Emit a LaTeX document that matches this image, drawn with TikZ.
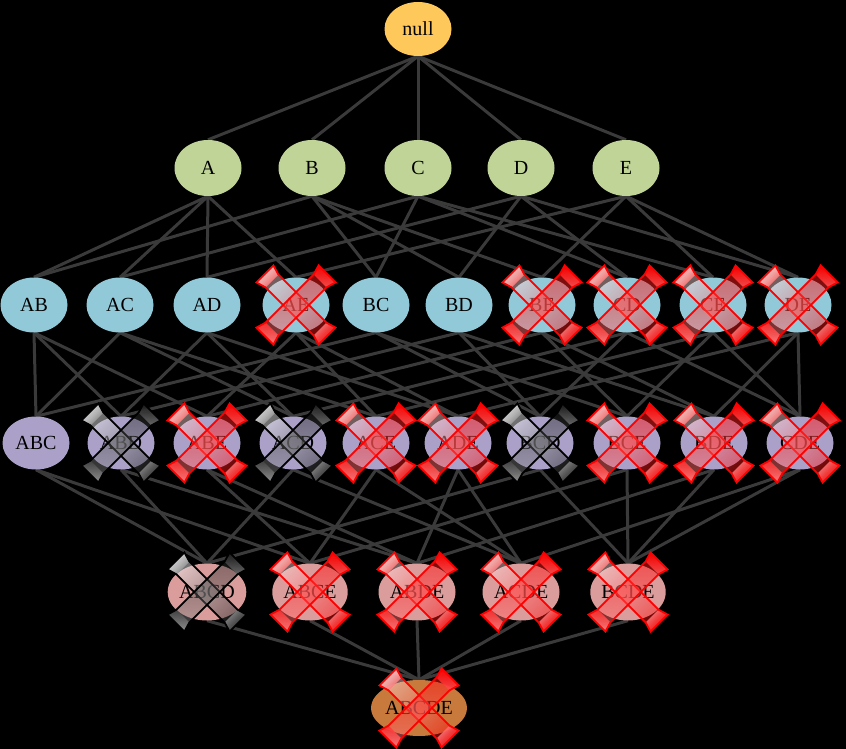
\documentclass[tikz,border=0pt]{standalone}
\usepackage{fontspec}
\setmainfont{Liberation Serif}
\usetikzlibrary{shapes.geometric}
\pgfdeclarelayer{edgelayer}
\pgfdeclarelayer{backlayer}
\pgfsetlayers{backlayer,edgelayer,main}
\definecolor{nullc}{HTML}{FFC85A}
\definecolor{greenc}{HTML}{C0D498}
\definecolor{bluec}{HTML}{92C9D8}
\definecolor{purplec}{HTML}{AAA0C8}
\definecolor{pinkc}{HTML}{DB9C9C}
\definecolor{brownc}{HTML}{C87A3C}
\definecolor{edgec}{HTML}{3A3A3A}
\newcommand{\xbar}[1]{%
  \path[#1, draw=none, fill opacity=0.9] (-39.6,-22.6) -- (-22.6,-39.6) -- (-17.6,-30.4) -- (-30.4,-17.6) -- cycle;
  \path[#1, draw=none, fill opacity=0.9] (30.4,17.6) -- (39.6,22.6) -- (22.6,39.6) -- (17.6,30.4) -- cycle;
  \path[#1] (-22.6,-39.6) -- (-17.6,-30.4) -- (30.4,17.6) -- (39.6,22.6) -- (22.6,39.6) -- (17.6,30.4) -- (-30.4,-17.6) -- (-39.6,-22.6) -- cycle;}
\newcommand{\xmark}[3]{%
  \begin{scope}[shift={(#1.center)}]
    \xbar{#2}
    \begin{scope}[xscale=-1]
      \xbar{#3}
    \end{scope}
  \end{scope}}
\tikzset{
  itemset/.style={ellipse, minimum width=67pt, minimum height=55pt, inner sep=0pt,
    font=\fontsize{20}{20}\selectfont, text=black},
  lnull/.style={itemset, fill=nullc, minimum height=54pt},
  lone/.style={itemset, fill=greenc, minimum height=56pt},
  ltwo/.style={itemset, fill=bluec},
  lthree/.style={itemset, fill=purplec, minimum height=53pt},
  lfour/.style={itemset, fill=pinkc, minimum width=70pt, minimum height=57pt},
  lfive/.style={itemset, fill=brownc, minimum width=86pt, minimum height=56pt},
  edge/.style={draw=edgec, line width=3pt},
  redA/.style={draw=red, line width=1.8pt, left color=red!10, right color=red, shading angle=45, fill opacity=0.45},
  redB/.style={draw=red, line width=1.8pt, top color=red, bottom color=red!50, fill opacity=0.5},
  blackA/.style={draw=black, line width=1.8pt, left color=white!95!black, right color=black!85, shading angle=45, fill opacity=0.5},
  blackB/.style={draw=black, line width=1.8pt, top color=black!90, bottom color=black!40, fill opacity=0.45},
}
\begin{document}
\begin{tikzpicture}[x=1pt, y=-1pt]
\begin{pgfonlayer}{backlayer}
\fill[black] (0,0) rectangle (846,749);
\end{pgfonlayer}
\useasboundingbox (0,0) rectangle (846,749);
% nodes
\node[lnull] (null) at (418,29) {null};
\node[lone] (A) at (208,168) {A};
\node[lone] (B) at (312,168) {B};
\node[lone] (C) at (418,168) {C};
\node[lone] (D) at (521,168) {D};
\node[lone] (E) at (626,168) {E};
\node[ltwo] (AB) at (34,305) {AB};
\node[ltwo] (AC) at (120,305) {AC};
\node[ltwo] (AD) at (207,305) {AD};
\node[ltwo] (AE) at (296,305) {AE};
\node[ltwo] (BC) at (376,305) {BC};
\node[ltwo] (BD) at (459,305) {BD};
\node[ltwo] (BE) at (542,305) {BE};
\node[ltwo] (CD) at (627,305) {CD};
\node[ltwo] (CE) at (713,305) {CE};
\node[ltwo] (DE) at (798,305) {DE};
\node[lthree] (ABC) at (36,443) {ABC};
\node[lthree] (ABD) at (121,443) {ABD};
\node[lthree] (ABE) at (207,443) {ABE};
\node[lthree] (ACD) at (293,443) {ACD};
\node[lthree] (ACE) at (376,443) {ACE};
\node[lthree] (ADE) at (458,443) {ADE};
\node[lthree] (BCD) at (540,443) {BCD};
\node[lthree] (BCE) at (627,443) {BCE};
\node[lthree] (BDE) at (714,443) {BDE};
\node[lthree] (CDE) at (800,443) {CDE};
\node[lfour] (ABCD) at (207,592) {ABCD};
\node[lfour] (ABCE) at (310,592) {ABCE};
\node[lfour] (ABDE) at (417,592) {ABDE};
\node[lfour] (ACDE) at (521,592) {ACDE};
\node[lfour] (BCDE) at (628,592) {BCDE};
\node[lfive] (ABCDE) at (419,708) {ABCDE};
% edges (behind nodes)
\begin{pgfonlayer}{edgelayer}
\foreach \p/\c in {null/A,null/B,null/C,null/D,null/E,
  A/AB,B/AB,A/AC,C/AC,A/AD,D/AD,A/AE,E/AE,B/BC,C/BC,B/BD,D/BD,B/BE,E/BE,C/CD,D/CD,C/CE,E/CE,D/DE,E/DE,
  AB/ABC,AC/ABC,BC/ABC,AB/ABD,AD/ABD,BD/ABD,AB/ABE,AE/ABE,BE/ABE,AC/ACD,AD/ACD,CD/ACD,
  AC/ACE,AE/ACE,CE/ACE,AD/ADE,AE/ADE,DE/ADE,BC/BCD,BD/BCD,CD/BCD,BC/BCE,BE/BCE,CE/BCE,
  BD/BDE,BE/BDE,DE/BDE,CD/CDE,CE/CDE,DE/CDE,
  ABC/ABCD,ABD/ABCD,ACD/ABCD,BCD/ABCD,ABC/ABCE,ABE/ABCE,ACE/ABCE,BCE/ABCE,
  ABD/ABDE,ABE/ABDE,ADE/ABDE,BDE/ABDE,ACD/ACDE,ACE/ACDE,ADE/ACDE,CDE/ACDE,
  BCD/BCDE,BCE/BCDE,BDE/BCDE,CDE/BCDE,
  ABCD/ABCDE,ABCE/ABCDE,ABDE/ABCDE,ACDE/ABCDE,BCDE/ABCDE}
  \draw[edge] (\p.south) -- (\c.north);
\end{pgfonlayer}
% crosses
\foreach \n in {AE,BE,CD,CE,DE,ABE,ACE,ADE,BCE,BDE,CDE,ABCE,ABDE,ACDE,BCDE,ABCDE}
  \xmark{\n}{redA}{redB};
\foreach \n in {ABD,ACD,BCD,ABCD}
  \xmark{\n}{blackA}{blackB};
\end{tikzpicture}
\end{document}
